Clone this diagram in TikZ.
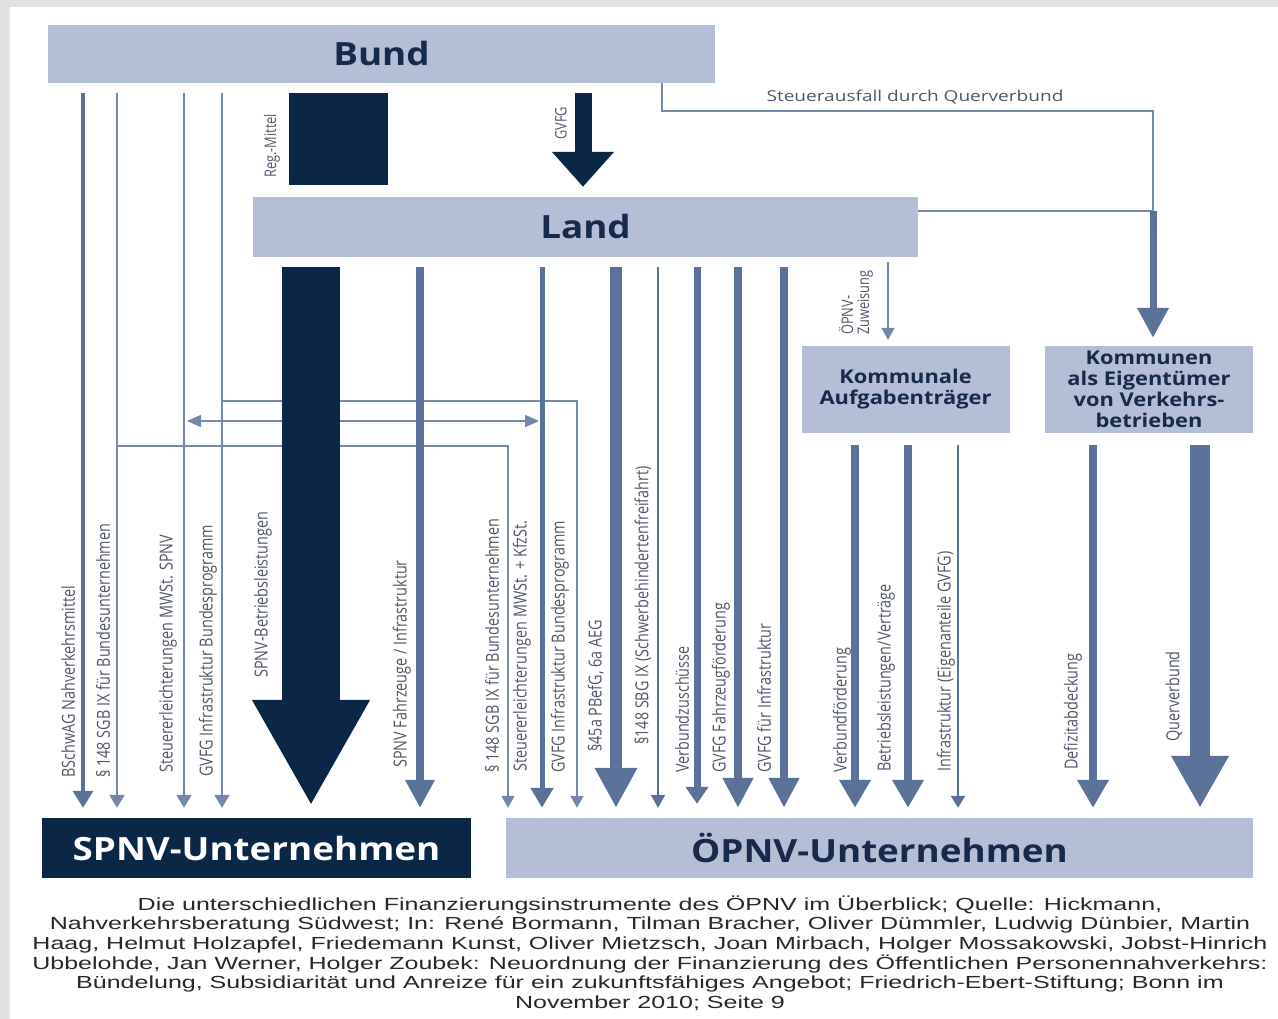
\documentclass[tikz,border=0pt]{standalone}
\usepackage{fontspec}
\setmainfont{Open Sans}
\newfontfamily\widefont[FakeStretch=1.15]{Open Sans}
\newfontfamily\midfont[FakeStretch=1.27]{Open Sans}
\newfontfamily\condfont[FakeStretch=0.8]{Open Sans}
\newfontfamily\capfont[FakeStretch=1.43]{Liberation Sans}
\usetikzlibrary{arrows.meta}

\definecolor{boxfill}{RGB}{180,190,214}
\definecolor{navy}{RGB}{10,39,71}
\definecolor{navytext}{RGB}{22,42,78}
\definecolor{flowblue}{RGB}{90,114,153}
\definecolor{linkblue}{RGB}{118,136,170}
\definecolor{lbltext}{RGB}{80,88,104}
\definecolor{framegray}{RGB}{226,226,226}
\definecolor{captext}{RGB}{40,40,40}

\begin{document}
\begin{tikzpicture}[
  x=1pt, y=-1pt,
  level/.style={
    fill=boxfill,
    text=navytext,
    inner sep=0pt,
    font=\widefont\bfseries\fontsize{32}{36}\selectfont
  },
  commune/.style={
    fill=boxfill,
    text=navytext,
    inner sep=0pt,
    align=center,
    minimum width=208pt,
    minimum height=87pt,
    font=\widefont\bfseries\fontsize{19}{21}\selectfont
  },
  lbl/.style={rotate=90, anchor=west, inner sep=0pt, text=lbltext,
    font=\condfont\fontsize{18}{18}\selectfont},
  flow/.style n args={3}{draw=flowblue, line width=#1,
    -{Triangle[width=#2,length=#3]}, shorten <=10pt, shorten >=10pt},
  link/.style={draw=linkblue, line width=1.6pt},
  tip/.style={-{Triangle[width=13pt,length=12pt]}}
]
\useasboundingbox (0,0) rectangle (1278,1019);
\fill[framegray] (0,0) rectangle (1278,1019);
\fill[white] (10,7) rectangle (1278,1019);

% levels
\node[level, minimum width=667pt, minimum height=58pt] (bund) at (381.5,54) {Bund};
\node[level, minimum width=665pt, minimum height=60pt] (land) at (585.5,227) {Land};
\node[commune] (kat) at (905.5,389.5) {Kommunale\\Aufgabenträger};
\node[commune] (keig) at (1149,389.5) {Kommunen\\als Eigentümer\\von Verkehrs-\\betrieben};
\node[level, fill=navy, text=white, minimum width=429pt, minimum height=60pt] (spnv) at (256.5,848) {SPNV-Unternehmen};
\node[level, minimum width=747pt, minimum height=60pt] (opnv) at (879.5,848) {ÖPNV-Unternehmen};

% Bund -> Land
\draw[navy, line width=99pt, shorten <=10pt, shorten >=12pt] (338.5,0 |- bund.south) -- (338.5,0 |- land.north);
\draw[flow={17pt}{60pt}{35pt}, draw=navy] (583,0 |- bund.south) -- (583,0 |- land.north);
\node[lbl, font=\condfont\fontsize{16}{16}\selectfont] (regm) at (272,178) {Reg.-Mittel};
\node[lbl, font=\condfont\fontsize{16}{16}\selectfont] (gvfgl) at (561,140) {GVFG};

% Bund -> SPNV
\draw[flow={3.5pt}{20pt}{17pt}] (83,0 |- bund.south) -- (83,0 |- spnv.north);
\draw[flow={2.5pt}{15pt}{13pt}, draw=linkblue] (117,0 |- bund.south) -- (117,0 |- spnv.north);
\draw[flow={2.5pt}{15pt}{13pt}, draw=linkblue] (184,0 |- bund.south) -- (184,0 |- spnv.north);
\draw[flow={2.5pt}{15pt}{13pt}, draw=linkblue] (222,0 |- bund.south) -- (222,0 |- spnv.north);

% Bund -> OEPNV (crossing the SPNV block)
\coordinate (gvfgb) at (222,401);
\coordinate (sgbb) at (117,446);
\coordinate (mwstl) at (184,421);
\coordinate (mwstr) at (542,421);
\draw[link, tip, shorten >=10pt] (gvfgb) -| (577,0 |- opnv.north);
\draw[link, tip, shorten >=10pt] (sgbb) -| (508,0 |- opnv.north);
\draw[link, {Triangle[width=12pt,length=14pt]}-{Triangle[width=12pt,length=14pt]},
  shorten <=3pt, shorten >=3pt] (mwstl) -- (mwstr);

% Land -> SPNV
\draw[flow={58pt}{110pt}{106pt}, draw=navy, shorten >=12pt] (311,0 |- land.south) -- (311,0 |- spnv.north);
\draw[flow={8.5pt}{28pt}{28pt}] (420,0 |- land.south) -- (420,0 |- spnv.north);

% Land -> OEPNV
\draw[flow={5pt}{22pt}{20pt}] (542,0 |- land.south) -- (542,0 |- opnv.north);
\draw[flow={12pt}{40pt}{40pt}] (616,0 |- land.south) -- (616,0 |- opnv.north);
\draw[flow={2.5pt}{14pt}{13pt}] (658,0 |- land.south) -- (658,0 |- opnv.north);
\draw[flow={7pt}{22pt}{17pt}, shorten >=14pt] (697,0 |- land.south) -- (697,0 |- opnv.north);
\draw[flow={8.5pt}{29pt}{30pt}] (738,0 |- land.south) -- (738,0 |- opnv.north);
\draw[flow={8.5pt}{29pt}{30pt}] (784,0 |- land.south) -- (784,0 |- opnv.north);

% Land -> Kommunale Aufgabentraeger
\draw[link, tip, shorten <=5pt, shorten >=6pt] (888,0 |- land.south) -- (888,0 |- kat.north);
\node[lbl, align=left, font=\condfont\fontsize{16}{16}\selectfont] (zuw) at (856,335) {ÖPNV-\\Zuweisung};

% Steuerausfall
\coordinate (qv) at (1153,211);
\draw[link, line width=2.5pt] (662,0 |- bund.south) |- (1153,111) -- (qv);
\draw[link, line width=2.5pt] (land.east |- qv) -- (qv);
\draw[flow={7pt}{30pt}{30pt}, shorten <=0pt, shorten >=8pt] (qv) -- (qv |- keig.north);
\node[text=lbltext, font=\midfont\fontsize{15}{17}\selectfont] (stlbl) at (915,97) {Steuerausfall durch Querverbund};

% Kommunen -> OEPNV
\draw[flow={8pt}{30pt}{28pt}, shorten <=12pt] (855,0 |- kat.south) -- (855,0 |- opnv.north);
\draw[flow={8pt}{30pt}{28pt}, shorten <=12pt] (908,0 |- kat.south) -- (908,0 |- opnv.north);
\draw[flow={2.5pt}{14pt}{12pt}, shorten <=12pt] (958,0 |- kat.south) -- (958,0 |- opnv.north);
\draw[flow={8pt}{30pt}{28pt}, shorten <=12pt] (1093,0 |- keig.south) -- (1093,0 |- opnv.north);
\draw[flow={20pt}{54pt}{52pt}, shorten <=12pt] (1200,0 |- keig.south) -- (1200,0 |- opnv.north);

% labels
\node[lbl] (l1) at (68,778) {BSchwAG Nahverkehrsmittel};
\node[lbl] (l2) at (103,778) {§ 148 SGB IX für Bundesunternehmen};
\node[lbl] (l3) at (168,773) {Steuererleichterungen MWSt. SPNV};
\node[lbl] (l4) at (208,777) {GVFG Infrastruktur Bundesprogramm};
\node[lbl] (l5) at (263,678) {SPNV-Betriebsleistungen};
\node[lbl] (l6) at (402,768) {SPNV Fahrzeuge / Infrastruktur};
\node[lbl] (l7) at (492,773) {§ 148 SGB IX für Bundesunternehmen};
\node[lbl] (l8) at (522,772) {Steuererleichterungen MWSt. + KfzSt.};
\node[lbl] (l9) at (560,773) {GVFG Infrastruktur Bundesprogramm};
\node[lbl] (l10) at (596,752) {§45a PBefG, 6a AEG};
\node[lbl] (l11) at (643,745) {§148 SBG IX (Schwerbehindertenfreifahrt)};
\node[lbl] (l12) at (682,773) {Verbundzuschüsse};
\node[lbl] (l13) at (721,773) {GVFG Fahrzeugförderung};
\node[lbl] (l14) at (764,773) {GVFG für Infrastruktur};
\node[lbl] (l15) at (842,773) {Verbundförderung};
\node[lbl] (l16) at (886,772) {Betriebsleistungen/Verträge};
\node[lbl] (l17) at (946,772) {Infrastruktur (Eigenanteile GVFG)};
\node[lbl] (l18) at (1073,770) {Defizitabdeckung};
\node[lbl] (l19) at (1174,742) {Querverbund};

% caption
\node[text=captext, align=center, font=\capfont\fontsize{17.5}{19.6}\selectfont] (caption) at (650,953)
  {Die unterschiedlichen Finanzierungsinstrumente des ÖPNV im Überblick; Quelle: Hickmann,\\
   Nahverkehrsberatung Südwest; In: René Bormann, Tilman Bracher, Oliver Dümmler, Ludwig Dünbier, Martin\\
   Haag, Helmut Holzapfel, Friedemann Kunst, Oliver Mietzsch, Joan Mirbach, Holger Mossakowski, Jobst-Hinrich\\
   Ubbelohde, Jan Werner, Holger Zoubek: Neuordnung der Finanzierung des Öffentlichen Personennahverkehrs:\\
   Bündelung, Subsidiarität und Anreize für ein zukunftsfähiges Angebot; Friedrich-Ebert-Stiftung; Bonn im\\
   November 2010; Seite 9};
\end{tikzpicture}
\end{document}
